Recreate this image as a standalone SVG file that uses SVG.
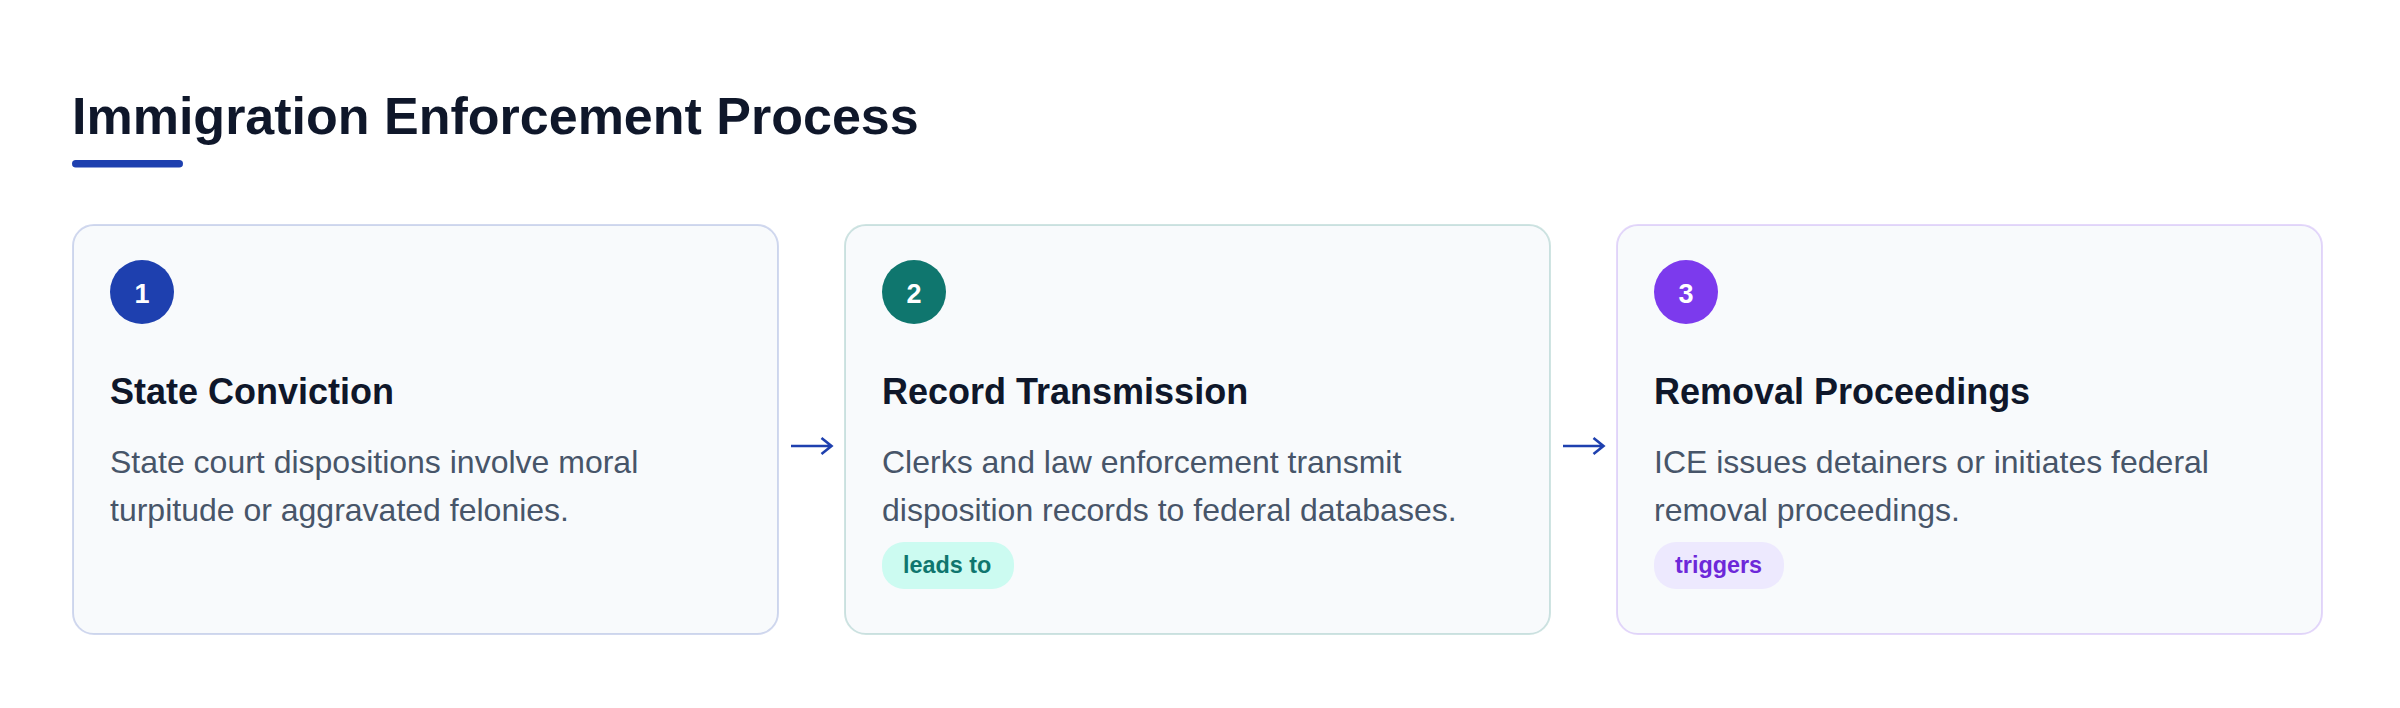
<svg xmlns="http://www.w3.org/2000/svg" width="2400" height="708" viewBox="0 0 2400 708">
  <style>
    .title { font-family: "Liberation Sans", Arial, sans-serif; font-weight: 700; font-size: 52px; fill: #0f172a; }
    .card { fill: #f8fafc; stroke-width: 2; }
    .num { font-family: "Liberation Sans", Arial, sans-serif; font-weight: 700; font-size: 27px; fill: #ffffff; text-anchor: middle; }
    .head { font-family: "Liberation Sans", Arial, sans-serif; font-weight: 700; font-size: 36px; fill: #0f172a; }
    .body { font-family: "Liberation Sans", Arial, sans-serif; font-size: 32px; fill: #475569; }
    .badge { font-family: "Liberation Sans", Arial, sans-serif; font-weight: 700; font-size: 23.4px; }
    .arrow { fill: none; stroke: #1e40af; stroke-width: 2.6; stroke-linecap: butt; stroke-linejoin: miter; }
  </style>
  <rect x="0" y="0" width="2400" height="708" fill="#ffffff"/>

  <g id="header">
    <text class="title" x="72" y="134">Immigration Enforcement Process</text>
    <rect x="72" y="160" width="111" height="7.5" rx="3.75" fill="#1e40af"/>
  </g>

  <g id="step1">
    <rect class="card" x="73" y="225" width="705" height="409" rx="21" stroke="#1e40af" stroke-opacity="0.2"/>
    <circle cx="142" cy="292" r="32" fill="#1e40af"/>
    <text class="num" x="142" y="302.5">1</text>
    <text class="head" x="110" y="404">State Conviction</text>
    <text class="body" x="110" y="473">State court dispositions involve moral</text>
    <text class="body" x="110" y="521">turpitude or aggravated felonies.</text>
  </g>

  <g id="step2">
    <rect class="card" x="845" y="225" width="705" height="409" rx="21" stroke="#0f766e" stroke-opacity="0.2"/>
    <circle cx="914" cy="292" r="32" fill="#0f766e"/>
    <text class="num" x="914" y="302.5">2</text>
    <text class="head" x="882" y="404">Record Transmission</text>
    <text class="body" x="882" y="473">Clerks and law enforcement transmit</text>
    <text class="body" x="882" y="521">disposition records to federal databases.</text>
    <rect x="882" y="542" width="132" height="47" rx="22" fill="#ccfbf1"/>
    <text class="badge" x="903" y="573" fill="#0f766e">leads to</text>
  </g>

  <g id="step3">
    <rect class="card" x="1617" y="225" width="705" height="409" rx="21" stroke="#7c3aed" stroke-opacity="0.2"/>
    <circle cx="1686" cy="292" r="32" fill="#7c3aed"/>
    <text class="num" x="1686" y="302.5">3</text>
    <text class="head" x="1654" y="404">Removal Proceedings</text>
    <text class="body" x="1654" y="473">ICE issues detainers or initiates federal</text>
    <text class="body" x="1654" y="521">removal proceedings.</text>
    <rect x="1654" y="542" width="130" height="47" rx="22" fill="#ede9fe"/>
    <text class="badge" x="1675" y="573" fill="#6d28d9">triggers</text>
  </g>

  <g id="connectors">
    <path class="arrow" d="M791 446 H831 M821.5 438 L831.5 446 L821.5 454"/>
    <path class="arrow" d="M1563 446 H1603 M1593.5 438 L1603.5 446 L1593.5 454"/>
  </g>
</svg>
